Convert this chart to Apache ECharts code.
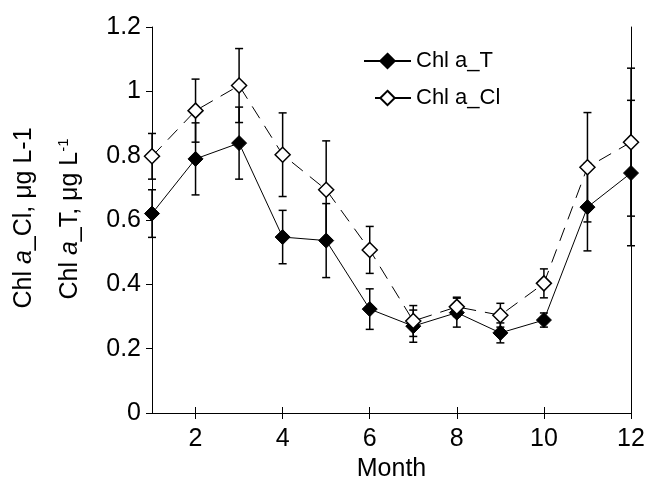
<!DOCTYPE html>
<html>
<head>
<meta charset="utf-8">
<script src="https://cdn.jsdelivr.net/npm/echarts@6/dist/echarts.min.js"></script>
<style>
html,body{margin:0;padding:0;background:#fff;}
#chart{width:649px;height:483px;}
</style>
</head>
<body>
<div id="chart"></div>
<script>
// ---- data ----
var months = [1, 2, 3, 4, 5, 6, 7, 8, 9, 10, 11, 12];
var chlT = [0.620, 0.790, 0.839, 0.547, 0.536, 0.323, 0.270, 0.312, 0.249, 0.289, 0.640, 0.746];
var chlTErr = [0.074, 0.112, 0.112, 0.083, 0.115, 0.063, 0.050, 0.045, 0.031, 0.022, 0.136, 0.226];
var chlCl = [0.798, 0.940, 1.018, 0.803, 0.694, 0.507, 0.286, 0.330, 0.304, 0.403, 0.764, 0.842];
var chlClErr = [0.071, 0.098, 0.115, 0.130, 0.152, 0.073, 0.048, 0.030, 0.037, 0.045, 0.170, 0.230];
var xTicks = [2, 4, 6, 8, 10, 12];
var yMin = 0, yMax = 1.2, yStep = 0.2;
var seriesNames = ['Chl a_T', 'Chl a_Cl'];
var xTitle = 'Month';

var FONT = '"Liberation Sans", Arial, sans-serif';

function pts(vals) {
  return months.map(function (m, i) { return [m, vals[i]]; });
}
function errs(vals, e) {
  return months.map(function (m, i) { return [m, vals[i] - e[i], vals[i] + e[i]]; });
}
function errRender(params, api) {
  var x = api.value(0);
  var lo = api.coord([x, api.value(1)]);
  var hi = api.coord([x, api.value(2)]);
  var w = 4;
  var st = { stroke: '#000', lineWidth: 1.5 };
  return {
    type: 'group',
    children: [
      { type: 'line', shape: { x1: lo[0], y1: lo[1], x2: hi[0], y2: hi[1] }, style: st },
      { type: 'line', shape: { x1: lo[0] - w, y1: lo[1], x2: lo[0] + w, y2: lo[1] }, style: st },
      { type: 'line', shape: { x1: hi[0] - w, y1: hi[1], x2: hi[0] + w, y2: hi[1] }, style: st }
    ]
  };
}

var chart = echarts.init(document.getElementById('chart'), null, { renderer: 'canvas' });
var axisLine = { show: true, lineStyle: { color: '#000', width: 1 } };

var option = {
  backgroundColor: '#fff',
  animation: false,
  textStyle: { fontFamily: FONT, color: '#000' },
  grid: { left: 152, right: 18, top: 27, bottom: 70, containLabel: false, outerBoundsMode: 'none' },
  legend: [
    {
      data: [seriesNames[0]], left: 358, top: 45, orient: 'vertical',
      itemWidth: 47, itemHeight: 18,
      textStyle: { fontFamily: FONT, fontSize: 22, color: '#000' }
    },
    {
      data: [seriesNames[1]], left: 358, top: 82, orient: 'vertical',
      itemWidth: 47, itemHeight: 18,
      lineStyle: { type: [0, 11, 36] },
      textStyle: { fontFamily: FONT, fontSize: 22, color: '#000' }
    }
  ],
  xAxis: [
    {
      type: 'value', min: 1, max: 12, position: 'bottom',
      axisLine: axisLine,
      axisTick: { show: true, inside: false, length: 6, customValues: xTicks, lineStyle: { color: '#000' } },
      axisLabel: { show: true, customValues: xTicks, margin: 14, fontSize: 25, color: '#000', fontFamily: FONT },
      splitLine: { show: false },
      name: xTitle, nameLocation: 'middle', nameGap: 44,
      nameTextStyle: { fontSize: 25, color: '#000', fontFamily: FONT }
    },
    {
      type: 'value', min: 1, max: 12, position: 'top',
      axisLine: axisLine,
      axisTick: { show: true, inside: false, length: 6, customValues: xTicks, lineStyle: { color: '#000' } },
      axisLabel: { show: false },
      splitLine: { show: false }
    }
  ],
  yAxis: [
    {
      type: 'value', min: yMin, max: yMax, interval: yStep, position: 'left',
      axisLine: axisLine,
      axisTick: { show: true, inside: false, length: 6, lineStyle: { color: '#000' } },
      axisLabel: { margin: 11, fontSize: 25, color: '#000', fontFamily: FONT },
      splitLine: { show: false }
    },
    {
      type: 'value', min: yMin, max: yMax, interval: yStep, position: 'right',
      axisLine: axisLine,
      axisTick: { show: false },
      axisLabel: { show: false },
      splitLine: { show: false }
    }
  ],
  graphic: [
    {
      type: 'text', x: 24, y: 218, rotation: Math.PI / 2,
      style: {
        text: 'Chl {i|a}_Cl, μg L-1',
        fontSize: 25, fontFamily: FONT, fill: '#000',
        align: 'center', verticalAlign: 'middle',
        rich: { i: { fontStyle: 'italic', fontSize: 25, fontFamily: FONT } }
      }
    },
    {
      type: 'text', x: 70, y: 219, rotation: Math.PI / 2,
      style: {
        text: 'Chl {i|a}_T, μg L{sup|-1}',
        fontSize: 25, fontFamily: FONT, fill: '#000',
        align: 'center', verticalAlign: 'middle',
        rich: {
          i: { fontStyle: 'italic', fontSize: 25, fontFamily: FONT },
          sup: { fontSize: 15, fontFamily: FONT, padding: [0, 0, 12, 0] }
        }
      }
    }
  ],
  series: [
    {
      type: 'custom', name: 'errT', renderItem: errRender, data: errs(chlT, chlTErr),
      encode: { x: 0, y: [1, 2] }, z: 1, silent: true
    },
    {
      type: 'custom', name: 'errCl', renderItem: errRender, data: errs(chlCl, chlClErr),
      encode: { x: 0, y: [1, 2] }, z: 1, silent: true
    },
    {
      type: 'line', name: seriesNames[0], data: pts(chlT), z: 3,
      symbol: 'diamond', symbolSize: 15,
      lineStyle: { color: '#000', width: 1 },
      itemStyle: { color: '#000', borderColor: '#000', borderWidth: 1 }
    },
    {
      type: 'line', name: seriesNames[1], data: pts(chlCl), z: 4,
      symbol: 'diamond', symbolSize: 15,
      lineStyle: { color: '#000', width: 1, type: [14, 9] },
      itemStyle: { color: '#fff', borderColor: '#000', borderWidth: 1.5 }
    }
  ]
};
chart.setOption(option);
</script>
</body>
</html>
